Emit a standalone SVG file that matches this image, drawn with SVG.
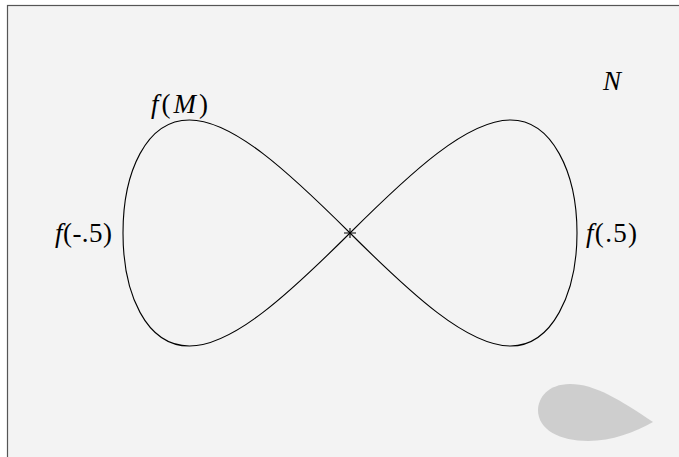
<svg xmlns="http://www.w3.org/2000/svg" width="679" height="457" viewBox="0 0 679 457">
<defs>
<style type="text/css">
.curve{fill:none;stroke:#000;stroke-width:1.1}
.lbl{font-family:"Liberation Serif","DejaVu Serif",serif;font-size:27px;fill:#000}
</style>
</defs>
<rect id="frame" x="7.5" y="5.5" width="700" height="480" fill="#f3f3f3" stroke="#555" stroke-width="1.2"/>
<g id="blob"><path d="M653,422 C620,400 595,384 570,384 C548,384 538,398 538,410 C538,430 560,441 588,441 C612,441 635,432 653,422 Z" fill="#cecece"/></g>
<g id="connectors">
<path class="curve" d="M577,233 C577,172 551.8,120 510.5,120 C467.2,120 411.3,172 350,233 C288.7,294 232.8,346 189.5,346 C146.2,346 123,294 123,233 C123,172 146.2,120 189.5,120 C232.8,120 288.7,172 350,233 C411.3,294 467.2,346 510.5,346 C551.8,346 577,294 577,233 Z"/>
</g>
<g id="center"><path d="M344,233 H356 M350,228 V238" stroke="#000" stroke-width="1.1"/></g>
<g class="lbl">
<g id="labelM"><text x="151" y="113" textLength="57"><tspan font-style="italic">f</tspan>(<tspan font-style="italic">M</tspan>)</text></g>
<g id="labelL"><text x="55" y="242" textLength="57"><tspan font-style="italic">f</tspan>(-.5)</text></g>
<g id="labelR"><text x="586" y="242" textLength="51"><tspan font-style="italic">f</tspan>(.5)</text></g>
<g id="labelN"><text x="603" y="90" font-style="italic">N</text></g>
</g>
</svg>
